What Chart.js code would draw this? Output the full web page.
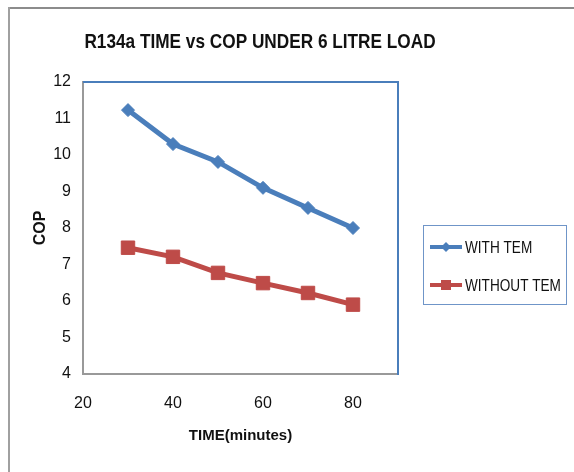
<!DOCTYPE html>
<html>
<head>
<meta charset="utf-8">
<script src="https://cdn.jsdelivr.net/npm/chart.js@4/dist/chart.umd.min.js"></script>
<style>
  html, body { margin: 0; padding: 0; background: #fff; }
  #wrap { width: 574px; height: 472px; position: relative; }
</style>
</head>
<body>
<div id="wrap"><canvas id="c" width="574" height="472"></canvas></div>
<script>
// Time in minutes and COP readings for the two configurations
const timeMinutes = [30, 40, 50, 60, 70, 80];
const copWithTem = [11.23, 10.30, 9.81, 9.10, 8.55, 8.00];
const copWithoutTem = [7.46, 7.21, 6.77, 6.49, 6.22, 5.90];
const seriesNames = ['WITH TEM', 'WITHOUT TEM'];
const chartTitle = 'R134a TIME vs COP UNDER 6 LITRE LOAD';
const xAxisTitle = 'TIME(minutes)';
const yAxisTitle = 'COP';

const BLUE = '#4A7EBB';
const RED = '#BE4B48';
const SANS = '"Liberation Sans", Arial, sans-serif';

function toPoints(xs, ys) {
  return xs.map((x, i) => ({ x: x, y: ys[i] }));
}

// text squeezed horizontally to give a narrow face
function narrowText(ctx, text, x, y, squeeze, align) {
  ctx.save();
  ctx.translate(x, y);
  ctx.scale(squeeze, 1);
  ctx.textAlign = align;
  ctx.textBaseline = 'middle';
  ctx.fillText(text, 0, 0);
  ctx.restore();
}

// Outer frame, plot-area border, title and boxed legend
const decorations = {
  id: 'decorations',
  beforeDraw(chart) {
    const ctx = chart.ctx;
    ctx.save();
    ctx.fillStyle = '#fff';
    ctx.fillRect(0, 0, chart.width, chart.height);
    ctx.fillStyle = '#8c8c8c';
    ctx.fillRect(9, 7, chart.width - 9, 2);
    ctx.fillStyle = '#a0a0a0';
    ctx.fillRect(8, 7, 2, chart.height - 7);
    ctx.restore();
  },
  afterDraw(chart) {
    const ctx = chart.ctx;
    const a = chart.chartArea;
    ctx.save();
    // top and right edges of the plot area
    ctx.strokeStyle = BLUE;
    ctx.lineWidth = 2;
    ctx.beginPath();
    ctx.moveTo(a.left, a.top);
    ctx.lineTo(a.right, a.top);
    ctx.lineTo(a.right, a.bottom + 1);
    ctx.stroke();

    // title
    ctx.fillStyle = '#111';
    ctx.font = 'bold 21px ' + SANS;
    narrowText(ctx, chartTitle, 260, 42, 0.82, 'center');

    // legend box
    ctx.strokeStyle = '#6f95c8';
    ctx.lineWidth = 1;
    ctx.strokeRect(423.5, 225.5, 143, 79);
    const rows = [247, 285];
    chart.data.datasets.forEach((ds, i) => {
      const y = rows[i];
      ctx.strokeStyle = ds.borderColor;
      ctx.lineWidth = 4;
      ctx.beginPath();
      ctx.moveTo(430, y);
      ctx.lineTo(462, y);
      ctx.stroke();
      ctx.fillStyle = ds.borderColor;
      ctx.beginPath();
      if (ds.pointStyle === 'rectRot') {
        ctx.moveTo(446, y - 5);
        ctx.lineTo(451, y);
        ctx.lineTo(446, y + 5);
        ctx.lineTo(441, y);
        ctx.closePath();
      } else {
        ctx.rect(441, y - 5, 10, 10);
      }
      ctx.fill();
      ctx.fillStyle = '#111';
      ctx.font = '17px ' + SANS;
      narrowText(ctx, ds.label, 465, y + 1, 0.8, 'left');
    });
    ctx.restore();
  }
};

new Chart(document.getElementById('c'), {
  type: 'line',
  data: {
    datasets: [
      {
        label: seriesNames[0],
        data: toPoints(timeMinutes, copWithTem),
        borderColor: BLUE,
        backgroundColor: BLUE,
        borderWidth: 5,
        pointStyle: 'rectRot',
        pointRadius: 6.5,
        pointHoverRadius: 6.5,
        pointBorderWidth: 1,
        tension: 0
      },
      {
        label: seriesNames[1],
        data: toPoints(timeMinutes, copWithoutTem),
        borderColor: RED,
        backgroundColor: RED,
        borderWidth: 5,
        pointStyle: 'rect',
        pointRadius: 9.5,
        pointHoverRadius: 9.5,
        pointBorderWidth: 1,
        tension: 0
      }
    ]
  },
  options: {
    responsive: false,
    animation: false,
    events: [],
    layout: { padding: { left: 0, top: 82, right: 176, bottom: 0 } },
    plugins: {
      legend: { display: false },
      title: { display: false },
      tooltip: { enabled: false }
    },
    scales: {
      x: {
        type: 'linear',
        min: 20,
        max: 90,
        grid: { display: false, drawTicks: false },
        border: { display: true, color: '#999', width: 2 },
        ticks: {
          stepSize: 20,
          includeBounds: false,
          padding: 20,
          color: '#111',
          font: { family: SANS, size: 16 }
        },
        title: {
          display: true,
          text: xAxisTitle,
          color: '#111',
          font: { family: SANS, size: 15, weight: 'bold' },
          padding: { top: 0, bottom: 27 }
        },
        afterFit(scale) { scale.height = 98; }
      },
      y: {
        min: 4,
        max: 12,
        grid: { display: false, drawTicks: false },
        border: { display: true, color: '#999', width: 2 },
        ticks: {
          stepSize: 1,
          padding: 12,
          color: '#111',
          font: { family: SANS, size: 16 }
        },
        title: {
          display: true,
          text: yAxisTitle,
          color: '#111',
          font: { family: SANS, size: 16, weight: 'bold' },
          padding: { top: 31, bottom: 0 }
        },
        afterFit(scale) { scale.width = 83; }
      }
    }
  },
  plugins: [decorations]
});
</script>
</body>
</html>
